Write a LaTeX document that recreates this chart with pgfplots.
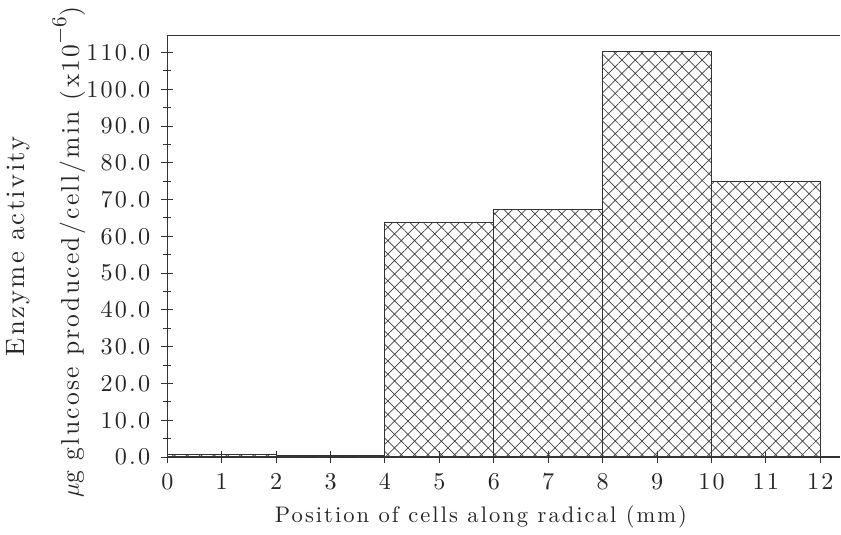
\documentclass[border=0pt]{standalone}
\usepackage{fontspec}
\setmainfont{lmroman10-regular.otf}[LetterSpace=9]
\usepackage{pgfplots}
\pgfplotsset{compat=1.18}
\usetikzlibrary{patterns.meta,calc}

\begin{document}
\begin{tikzpicture}
\begin{axis}[
    name=main,
    scale only axis,
    width=334.5pt, height=209.5pt,
    xmin=0, xmax=12.37,
    ymin=0, ymax=114.6,
    clip=false,
    axis x line=bottom, axis y line=left,
    axis line style={-, draw=black!80, line width=0.6pt},
    xtick={0,1,...,12},
    ytick={0,10,...,110},
    minor y tick num=1,
    tick align=center,
    major tick length=6pt, minor tick length=4pt,
    tick style={draw=black!80, line width=0.5pt},
    /pgf/number format/assume math mode=true,
    ticklabel style={font=\fontsize{12}{14}\selectfont, text=black!85},
    yticklabel style={xshift=-2pt, /pgf/number format/.cd, fixed, fixed zerofill, precision=1},
    xticklabel style={yshift=-1.5pt, /pgf/number format/.cd, fixed, precision=0},
]
% enzyme activity per 2 mm segment
\addplot[ybar interval, draw=black!80, line width=0.5pt,
    pattern={Hatch[angle=45, distance=4.7pt, line width=0.35pt]},
    pattern color=black!75]
    coordinates {(0,0.8)(2,0.3)(4,63.7)(6,67.3)(8,110.3)(10,75.0)(12,75.0)};
\end{axis}
\draw[black!80, line width=0.6pt] (main.north west) -- (main.north east);
\node[rotate=90, anchor=center, font=\fontsize{13.2}{15}\selectfont, text=black!85]
    at ($(main.south west)!0.5!(main.north west) + (-74pt,0)$) {Enzyme activity};
\node[rotate=90, anchor=center, font=\fontsize{12.7}{14}\selectfont, text=black!85]
    at ($(main.south west)!0.5!(main.north west) + (-49pt,-3pt)$)
    {$\mu$g glucose produced/cell/min (x10\raisebox{0.5em}{\fontsize{10.5}{12}\selectfont$-$6})};
\node[anchor=base, font=\fontsize{11.2}{13}\selectfont, text=black!85]
    at ($(main.south west)!0.466!(main.south east) + (0,-32.5pt)$) {Position of cells along radical (mm)};
\end{tikzpicture}
\end{document}
